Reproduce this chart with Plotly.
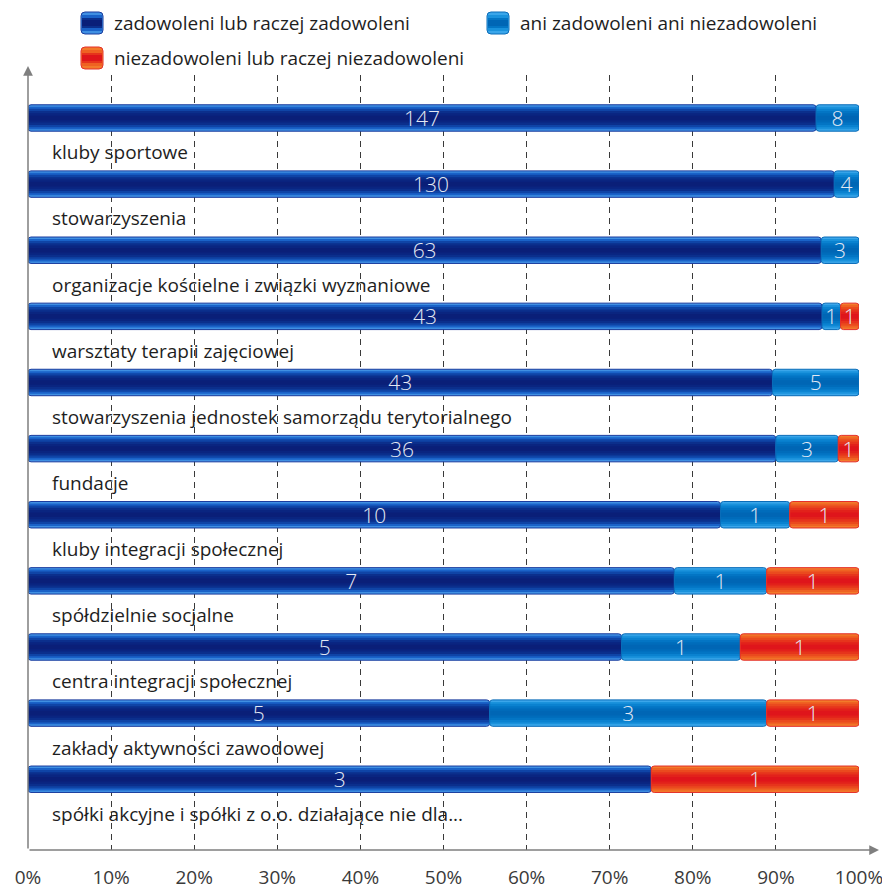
import plotly.graph_objects as go

categories = [
    "kluby sportowe",
    "stowarzyszenia",
    "organizacje kościelne i związki wyznaniowe",
    "warsztaty terapii zajęciowej",
    "stowarzyszenia jednostek samorządu terytorialnego",
    "fundacje",
    "kluby integracji społecznej",
    "spółdzielnie socjalne",
    "centra integracji społecznej",
    "zakłady aktywności zawodowej",
    "spółki akcyjne i spółki z o.o. działające nie dla...",
]
zadowoleni = [147, 130, 63, 43, 43, 36, 10, 7, 5, 5, 3]
ani = [8, 4, 3, 1, 5, 3, 1, 1, 1, 3, 0]
niezadowoleni = [0, 0, 0, 1, 0, 1, 1, 1, 1, 1, 1]

series_names = [
    "zadowoleni lub raczej zadowoleni",
    "ani zadowoleni ani niezadowoleni",
    "niezadowoleni lub raczej niezadowoleni",
]
tick_vals = list(range(0, 101, 10))
tick_text = [f"{v}%" for v in tick_vals]

# gradient palettes: edge -> centre
palettes = [
    ["#3f8fe2", "#1a62c8", "#0f44a6", "#0b2f8c", "#0a2580", "#0a1f78"],
    ["#3aa6ea", "#1a92dc", "#0a82d0", "#0375c4", "#006cbb", "#0066b5"],
    ["#f27a2a", "#ef6222", "#ea4a1e", "#e6341c", "#e2211b", "#df151b"],
]
borders = ["#1a3c9e", "#0a6cb8", "#e5302a"]

OFF = 8  # page body margin
W, H = 890 - OFF, 892 - OFF
L, R, T, B = 28, 859, 75, 850  # reference pixel positions of the plot area


def px_x(p):
    return (p - L) / (R - L)


def px_y(p):
    return (B - p) / (B - T)


n = len(categories)
ypos = list(range(n))
totals = [a + b + c for a, b, c in zip(zadowoleni, ani, niezadowoleni)]
data = [zadowoleni, ani, niezadowoleni]
pct = [[v / t * 100 for v, t in zip(s, totals)] for s in data]
bases = []
acc = [0.0] * n
for s in pct:
    bases.append(acc[:])
    acc = [a + v for a, v in zip(acc, s)]

fig = go.Figure()
bar_w = 0.40
layer_w = [bar_w, 0.34, 0.28, 0.21, 0.14, 0.07]
for si in range(3):
    xs = pct[si]
    bs = bases[si]
    idx = [i for i in range(n) if data[si][i] > 0]
    for li, w in enumerate(layer_w):
        fig.add_trace(go.Bar(
            x=[xs[i] for i in idx], base=[bs[i] for i in idx],
            y=[ypos[i] for i in idx], orientation="h", width=w,
            marker=dict(color=palettes[si][li], line=dict(width=0),
                        cornerradius=3 if li == 0 else 0),
            showlegend=False, hoverinfo="skip",
        ))
    fig.add_trace(go.Bar(
        x=[xs[i] for i in idx], base=[bs[i] for i in idx],
        y=[ypos[i] for i in idx], orientation="h", width=bar_w,
        marker=dict(color="rgba(0,0,0,0)", line=dict(width=1, color=borders[si]),
                    cornerradius=3),
        text=[str(data[si][i]) for i in idx], textposition="inside",
        insidetextanchor="middle", textangle=0,
        textfont=dict(size=21, color="#e3e9f4", family="Open Sans", weight=300),
        name=series_names[si], showlegend=False, hoverinfo="skip",
    ))

annotations = []
for i, c in enumerate(categories):
    annotations.append(dict(
        x=px_x(50), xref="paper", y=ypos[i] + 0.52, yref="y",
        text=c, showarrow=False, xanchor="left", yanchor="middle",
        font=dict(size=19, color="#1e1e1e", family="Open Sans"),
    ))

# axis arrows
annotations.append(dict(x=0, xref="paper", y=px_y(66), yref="paper",
                        ax=0, ay=(B - 66), axref="pixel", ayref="pixel",
                        text="", showarrow=True, arrowhead=2, arrowsize=1.3,
                        arrowwidth=1.5, arrowcolor="#7f7f7f"))
annotations.append(dict(x=px_x(879), xref="paper", y=0, yref="paper",
                        ax=-(879 - L), ay=0, axref="pixel", ayref="pixel",
                        text="", showarrow=True, arrowhead=2, arrowsize=1.3,
                        arrowwidth=1.5, arrowcolor="#7f7f7f"))


def rounded_rect(x0, y0, x1, y1, r):
    # pixel coords (reference) -> paper path with rounded corners
    X = px_x
    Y = px_y
    return (f"M {X(x0 + r)},{Y(y0)} L {X(x1 - r)},{Y(y0)} "
            f"Q {X(x1)},{Y(y0)} {X(x1)},{Y(y0 + r)} L {X(x1)},{Y(y1 - r)} "
            f"Q {X(x1)},{Y(y1)} {X(x1 - r)},{Y(y1)} L {X(x0 + r)},{Y(y1)} "
            f"Q {X(x0)},{Y(y1)} {X(x0)},{Y(y1 - r)} L {X(x0)},{Y(y0 + r)} "
            f"Q {X(x0)},{Y(y0)} {X(x0 + r)},{Y(y0)} Z")


# legend (manual)
shapes = []
legend_items = [(81, 12, 112, 0), (487, 12, 518, 1), (81, 47, 112, 2)]
for mx, my, tx, si in legend_items:
    size = 22
    shapes.append(dict(type="path", xref="paper", yref="paper",
                       path=rounded_rect(mx, my, mx + size, my + size, 4),
                       fillcolor=palettes[si][0],
                       line=dict(width=1, color=borders[si]), layer="above"))
    for li, inset in enumerate([3, 6, 8, 10]):
        shapes.append(dict(
            type="rect", xref="paper", yref="paper",
            x0=px_x(mx + 1), x1=px_x(mx + size - 1),
            y0=px_y(my + inset), y1=px_y(my + size - inset),
            fillcolor=palettes[si][min(li * 2 + 1, 5)],
            line=dict(width=0), layer="above",
        ))
    annotations.append(dict(
        x=px_x(tx), xref="paper", y=px_y(my + size / 2), yref="paper",
        text=series_names[si], showarrow=False, xanchor="left", yanchor="middle",
        font=dict(size=19, color="#1e1e1e", family="Open Sans"),
    ))

fig.update_layout(
    width=W, height=H,
    margin=dict(l=L - OFF, r=890 - R, t=T - OFF, b=892 - B, autoexpand=False),
    paper_bgcolor="white", plot_bgcolor="white",
    barmode="overlay", showlegend=False,
    uniformtext=dict(minsize=21, mode="show"),
    font=dict(family="Open Sans", color="#333"),
    xaxis=dict(range=[0, 100], tickvals=tick_vals, ticktext=tick_text,
               showgrid=True, gridcolor="#3a3a3a", gridwidth=1,
               griddash="6px,5px", zeroline=False, showline=False,
               ticks="", ticklabelstandoff=14, automargin=False,
               tickfont=dict(size=19, color="#3a3a3a", family="Open Sans"),
               fixedrange=True),
    yaxis=dict(range=[n - 1 + 1.07, -0.65], showgrid=False, zeroline=False,
               showticklabels=False, showline=False, ticks="", fixedrange=True,
               automargin=False),
    annotations=annotations,
    shapes=shapes,
)

fig.write_html("out.html")
